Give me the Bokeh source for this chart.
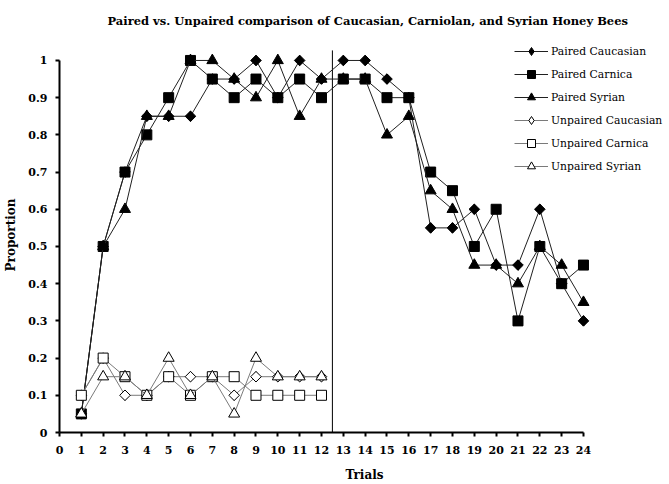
from bokeh.plotting import figure
from bokeh.models import Legend, LegendItem, FixedTicker
from bokeh.embed import file_html
from bokeh.resources import INLINE
import math

# ---- data ----
trials_paired = list(range(1, 25))
trials_unpaired = list(range(1, 13))

paired_caucasian = [0.05, 0.5, 0.7, 0.85, 0.85, 0.85, 0.95, 0.95, 1.0, 0.9, 1.0, 0.95,
                    1.0, 1.0, 0.95, 0.9, 0.55, 0.55, 0.6, 0.45, 0.45, 0.6, 0.4, 0.3]
paired_carnica = [0.05, 0.5, 0.7, 0.8, 0.9, 1.0, 0.95, 0.9, 0.95, 0.9, 0.95, 0.9,
                  0.95, 0.95, 0.9, 0.9, 0.7, 0.65, 0.5, 0.6, 0.3, 0.5, 0.4, 0.45]
paired_syrian = [0.05, 0.5, 0.6, 0.85, 0.85, 1.0, 1.0, 0.95, 0.9, 1.0, 0.85, 0.95,
                 0.95, 0.95, 0.8, 0.85, 0.65, 0.6, 0.45, 0.45, 0.4, 0.5, 0.45, 0.35]
unpaired_caucasian = [0.1, 0.2, 0.1, 0.1, 0.15, 0.15, 0.15, 0.1, 0.15, 0.15, 0.15, 0.15]
unpaired_carnica = [0.1, 0.2, 0.15, 0.1, 0.15, 0.1, 0.15, 0.15, 0.1, 0.1, 0.1, 0.1]
unpaired_syrian = [0.05, 0.15, 0.15, 0.1, 0.2, 0.1, 0.15, 0.05, 0.2, 0.15, 0.15, 0.15]

x_ticks = list(range(0, 25))
y_ticks = [0, 0.1, 0.2, 0.3, 0.4, 0.5, 0.6, 0.7, 0.8, 0.9, 1.0]
y_tick_labels = ["0", "0.1", "0.2", "0.3", "0.4", "0.5", "0.6", "0.7", "0.8", "0.9", "1"]
divider_trial = 12.5
divider_top = 1.027

TITLE = "Paired vs. Unpaired comparison of Caucasian, Carniolan, and Syrian Honey Bees"
FONT = "DejaVu Serif"

p = figure(width=669, height=484,
           x_range=(0, 27.94), y_range=(0, 1.0617),
           output_backend="svg", toolbar_location=None,
           min_border_left=59, min_border_right=0,
           min_border_top=37, min_border_bottom=51)

p.outline_line_color = None
p.grid.visible = False
p.background_fill_color = "white"

p.title.text = TITLE
p.title.text_font = FONT
p.title.text_font_size = "11.5px"
p.title.text_font_style = "bold"
p.title.text_color = "black"
p.title.align = "left"
p.title.offset = 48
p.title.standoff = 20

for ax in (p.xaxis[0], p.yaxis[0]):
    ax.axis_line_width = 2
    ax.axis_line_color = "black"
    ax.major_tick_line_width = 2
    ax.major_tick_line_color = "black"
    ax.major_tick_in = 0
    ax.major_tick_out = 4
    ax.minor_tick_line_color = None
    ax.major_label_text_font = FONT
    ax.major_label_text_font_style = "bold"
    ax.major_label_text_font_size = "11px"
    ax.major_label_text_color = "black"
    ax.axis_label_text_font = FONT
    ax.axis_label_text_font_style = "bold"
    ax.axis_label_text_font_size = "12px"
    ax.axis_label_text_color = "black"

p.xaxis.ticker = FixedTicker(ticks=x_ticks)
p.xaxis.bounds = (0, 24)
p.xaxis.axis_label = "Trials"
p.xaxis.major_label_standoff = 9
p.xaxis.axis_label_standoff = 11

p.yaxis.ticker = FixedTicker(ticks=y_ticks)
p.yaxis.major_label_overrides = {t: l for t, l in zip(y_ticks, y_tick_labels)}
p.yaxis.bounds = (0, 1)
p.yaxis.axis_label = "Proportion"
p.yaxis.major_label_standoff = 8
p.yaxis.axis_label_standoff = 7

# divider between the two phases
p.segment(x0=[divider_trial], y0=[0], x1=[divider_trial], y1=[divider_top],
          line_color="black", line_width=1)

PAIRED_LINE = "#202020"
UNPAIRED_LINE = "#7a7a7a"

# (label, x, y, marker, is_diamond, size, fill, line colour)
series = [
    ("Paired Caucasian", trials_paired, paired_caucasian, "square", True, 7.5, "black", PAIRED_LINE),
    ("Paired Carnica", trials_paired, paired_carnica, "square", False, 10, "black", PAIRED_LINE),
    ("Paired Syrian", trials_paired, paired_syrian, "triangle", False, 11, "black", PAIRED_LINE),
    ("Unpaired Caucasian", trials_unpaired, unpaired_caucasian, "square", True, 7.5, "white", UNPAIRED_LINE),
    ("Unpaired Carnica", trials_unpaired, unpaired_carnica, "square", False, 10, "white", UNPAIRED_LINE),
    ("Unpaired Syrian", trials_unpaired, unpaired_syrian, "triangle", False, 11, "white", UNPAIRED_LINE),
]

items = []
for name, xs, ys, marker, is_diamond, size, fill, lcol in series:
    r1 = p.line(xs, ys, line_color=lcol, line_width=1)
    if is_diamond:
        # diamond marker (used as legend swatch), covered in the plot by the rotated square
        r_leg = p.scatter(xs, ys, marker="diamond", size=10,
                          fill_color=fill, line_color="black", line_width=1)
        p.scatter(xs, ys, marker="square", angle=math.pi / 4, size=size,
                  fill_color=fill, line_color="black", line_width=1)
        items.append(LegendItem(label=name, renderers=[r1, r_leg]))
    else:
        r2 = p.scatter(xs, ys, marker=marker, size=size,
                       fill_color=fill, line_color="black", line_width=1)
        items.append(LegendItem(label=name, renderers=[r1, r2]))

legend = Legend(items=items, location=(455, 256))
legend.margin = 0
legend.padding = 0
legend.border_line_color = None
legend.background_fill_alpha = 0
legend.glyph_width = 34
legend.glyph_height = 20
legend.label_height = 20
legend.spacing = 3
legend.label_standoff = 3
legend.label_text_font = FONT
legend.label_text_font_size = "10.8px"
legend.label_text_color = "black"
legend.label_text_baseline = "middle"
p.add_layout(legend, "center")

open("out.html", "w").write(file_html(p, INLINE))
